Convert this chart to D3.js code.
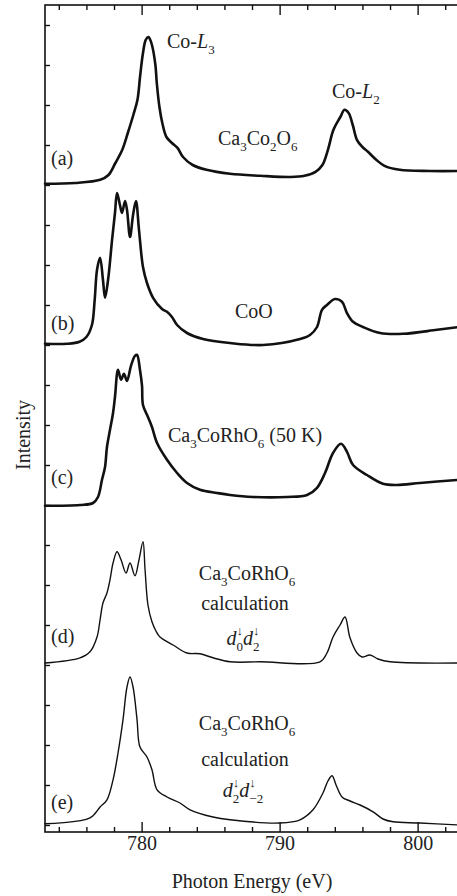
<!DOCTYPE html>
<html>
<head>
<meta charset="utf-8">
<script src="https://cdn.jsdelivr.net/npm/d3@7"></script>
<style>
  body { margin: 0; background: #fff; }
  svg { display: block; }
</style>
</head>
<body>
<div id="chart"></div>
<script>
// photon energy (eV) and offset intensity for each spectrum
const energyA = [773.0, 775.2, 777.0, 777.6, 778.1, 778.6, 779.0, 779.4, 779.7, 779.9, 780.1, 780.3, 780.5, 780.6, 780.75, 781.0, 781.1, 781.3, 781.5, 781.8, 782.2, 782.6, 783.0, 783.7, 784.7, 786.4, 788.6, 790.8, 791.8, 792.6, 793.1, 793.5, 793.9, 794.4, 794.7, 795.0, 795.3, 795.6, 796.0, 796.4, 797.0, 797.6, 798.7, 800.9, 803.0];
const intensityA = [16.03, 16.05, 16.13, 16.25, 16.55, 16.88, 17.3, 17.75, 18.13, 18.75, 19.3, 19.63, 19.7, 19.65, 19.5, 19.0, 18.55, 17.93, 17.55, 17.2, 17.05, 16.93, 16.7, 16.5, 16.38, 16.28, 16.23, 16.2, 16.23, 16.33, 16.5, 16.88, 17.38, 17.7, 17.88, 17.8, 17.5, 17.13, 16.95, 16.83, 16.63, 16.48, 16.38, 16.35, 16.35];

const energyB = [773.0, 774.6, 775.5, 776.0, 776.4, 776.6, 776.77, 776.99, 777.2, 777.35, 777.57, 777.86, 778.07, 778.22, 778.43, 778.58, 778.8, 778.94, 779.16, 779.38, 779.59, 779.81, 780.1, 780.39, 780.83, 781.48, 781.84, 782.2, 782.57, 783.29, 784.45, 786.41, 788.8, 791.48, 792.2, 792.71, 793.07, 793.43, 794.01, 794.52, 794.88, 795.32, 796.04, 797.28, 798.94, 801.41, 803.0];
const intensityB = [12.03, 12.03, 12.08, 12.2, 12.5, 13.13, 13.88, 14.18, 13.63, 13.18, 13.63, 14.63, 15.3, 15.8, 15.5, 15.3, 15.6, 15.38, 14.7, 15.25, 15.6, 14.88, 13.95, 13.55, 13.18, 12.9, 12.83, 12.7, 12.5, 12.3, 12.15, 12.05, 12.0, 12.15, 12.25, 12.45, 12.88, 13.0, 13.15, 13.08, 12.8, 12.58, 12.45, 12.3, 12.28, 12.38, 12.45];

const energyC = [773.0, 775.54, 776.48, 776.84, 777.13, 777.35, 777.49, 777.71, 777.93, 778.07, 778.29, 778.51, 778.72, 778.94, 779.23, 779.52, 779.67, 779.88, 780.03, 780.1, 780.46, 780.75, 781.12, 781.84, 782.57, 783.29, 784.23, 785.46, 786.41, 788.07, 790.54, 791.99, 792.71, 793.29, 793.87, 794.45, 794.88, 795.32, 796.33, 797.49, 798.51, 800.17, 803.0];
const intensityC = [7.98, 8.0, 8.05, 8.2, 8.63, 8.95, 9.45, 9.88, 10.3, 10.7, 11.38, 11.13, 11.28, 11.1, 11.48, 11.73, 11.75, 11.38, 10.98, 10.5, 10.2, 9.95, 9.55, 9.13, 8.8, 8.55, 8.38, 8.3, 8.25, 8.2, 8.2, 8.25, 8.43, 8.8, 9.3, 9.53, 9.33, 9.0, 8.75, 8.53, 8.5, 8.55, 8.63];

const energyD = [773.0, 775.54, 776.26, 776.77, 776.99, 777.2, 777.49, 777.71, 777.93, 778.22, 778.51, 778.87, 779.16, 779.52, 779.81, 780.1, 780.25, 780.46, 780.75, 781.04, 781.33, 782.28, 783.29, 784.23, 785.17, 786.41, 788.58, 792.93, 793.43, 793.87, 794.38, 794.74, 795.1, 795.61, 795.97, 796.55, 797.13, 798.0, 803.0];
const intensityD = [4.05, 4.18, 4.33, 4.7, 5.13, 5.55, 5.8, 6.13, 6.55, 6.83, 6.63, 6.3, 6.55, 6.23, 6.63, 7.08, 6.38, 5.5, 5.08, 4.85, 4.7, 4.5, 4.3, 4.28, 4.18, 4.08, 4.08, 4.08, 4.3, 4.7, 5.0, 5.2, 4.68, 4.3, 4.2, 4.25, 4.15, 4.08, 4.05];

const energyE = [773.0, 776.26, 776.99, 777.49, 777.93, 778.29, 778.65, 778.94, 779.16, 779.38, 779.67, 779.88, 780.39, 780.75, 781.12, 781.84, 782.78, 783.51, 785.17, 786.41, 790.03, 791.48, 792.42, 793.14, 793.5, 793.8, 794.09, 794.52, 795.1, 795.83, 796.77, 797.49, 798.22, 800.17, 803.0];
const intensityE = [0.03, 0.18, 0.45, 0.63, 1.13, 1.8, 2.63, 3.45, 3.7, 3.45, 2.63, 1.95, 1.7, 1.38, 0.88, 0.7, 0.55, 0.38, 0.2, 0.13, 0.05, 0.13, 0.38, 0.8, 1.1, 1.23, 1.0, 0.7, 0.6, 0.5, 0.33, 0.15, 0.08, 0.05, 0.0];

const majorTicks = [780, 790, 800];
const minorTicks = [774, 776, 778, 782, 784, 786, 788, 792, 794, 796, 798, 802];
const yTicks = d3.range(0, 21);

const W = 457, H = 896;
const FONT = "'Liberation Serif', 'Times New Roman', serif";

const svg = d3.select("#chart").append("svg")
    .attr("width", W)
    .attr("height", H)
    .style("font-family", FONT);

const x = d3.scaleLinear().domain([773, 803.07]).range([45, 460]);
const y = d3.scaleLinear().domain([-0.175, 20.5]).range([832, 5]);

const zip = (a, b) => a.map((v, i) => [v, b[i]]);
const line = d3.line()
    .x(d => x(d[0]))
    .y(d => y(d[1]))
    .curve(d3.curveCatmullRom.alpha(0.5));

const spectra = [
  { data: zip(energyA, intensityA), w: 2.6 },
  { data: zip(energyB, intensityB), w: 2.6 },
  { data: zip(energyC, intensityC), w: 2.6 },
  { data: zip(energyD, intensityD), w: 1.4 },
  { data: zip(energyE, intensityE), w: 1.4 }
];

svg.selectAll(".spec")
    .data(spectra)
    .enter().append("path")
    .attr("class", "spec")
    .attr("d", d => line(d.data))
    .attr("fill", "none")
    .attr("stroke", "#111")
    .attr("stroke-width", d => d.w)
    .attr("stroke-linejoin", "round")
    .attr("stroke-linecap", "round");

// axes, ticks point inward
function styleAxis(g) {
  g.select(".domain").remove();
  g.attr("font-family", FONT).attr("font-size", 20);
  g.selectAll("line").attr("stroke", "#111").attr("stroke-width", 1.4);
  g.selectAll("text").attr("fill", "#222");
}

svg.append("g")
    .attr("transform", "translate(0,832)")
    .call(d3.axisBottom(x).tickValues(majorTicks).tickSizeInner(-10).tickSizeOuter(0).tickPadding(4).tickFormat(d3.format("d")))
    .call(styleAxis);
svg.append("g")
    .attr("transform", "translate(0,832)")
    .call(d3.axisBottom(x).tickValues(minorTicks).tickSizeInner(-5).tickSizeOuter(0).tickFormat(""))
    .call(styleAxis);
svg.append("g")
    .attr("transform", "translate(0,5)")
    .call(d3.axisTop(x).tickValues(majorTicks).tickSizeInner(-10).tickSizeOuter(0).tickFormat(""))
    .call(styleAxis);
svg.append("g")
    .attr("transform", "translate(0,5)")
    .call(d3.axisTop(x).tickValues(minorTicks).tickSizeInner(-5).tickSizeOuter(0).tickFormat(""))
    .call(styleAxis);
svg.append("g")
    .attr("transform", "translate(45,0)")
    .call(d3.axisLeft(y).tickValues(yTicks).tickSizeInner(-5).tickSizeOuter(0).tickFormat(""))
    .call(styleAxis);

svg.append("rect")
    .attr("x", 45).attr("y", 5)
    .attr("width", 420).attr("height", 827)
    .attr("fill", "none")
    .attr("stroke", "#111")
    .attr("stroke-width", 1.6);

// axis titles
svg.append("text")
    .attr("x", 252).attr("y", 888)
    .attr("text-anchor", "middle")
    .attr("font-size", 20)
    .attr("fill", "#222")
    .text("Photon Energy (eV)");
svg.append("text")
    .attr("transform", "translate(30,435) rotate(-90)")
    .attr("text-anchor", "middle")
    .attr("font-size", 20)
    .attr("fill", "#222")
    .text("Intensity");

// text with subscripts / superscripts, measured piece by piece
function richText(x0, y0, parts, anchor) {
  const g = svg.append("g").attr("fill", "#222");
  let cx = 0;
  const put = (txt, dy, size, italic) => {
    const t = g.append("text")
        .attr("x", cx).attr("y", dy)
        .attr("font-size", size)
        .attr("font-style", italic ? "italic" : null)
        .attr("xml:space", "preserve")
        .text(txt);
    return t.node().getComputedTextLength();
  };
  parts.forEach(p => {
    if (typeof p === "string") cx += put(p, 0, 20, false);
    else if (p.it) cx += put(p.it, 0, 20, true);
    else if (p.sup !== undefined) {
      const w1 = put(p.sup, -10, 13, false);
      const w2 = put(p.sub, 6, 13, false);
      cx += Math.max(w1, w2);
    } else if (p.sub !== undefined) cx += put(p.sub, 6, 13, false);
  });
  const off = anchor === "middle" ? cx / 2 : 0;
  g.attr("transform", `translate(${x0 - off},${y0})`);
}

const panelLabels = ["(a)", "(b)", "(c)", "(d)", "(e)"];
const panelY = [165, 330, 484, 643, 809];
panelLabels.forEach((t, i) => richText(51, panelY[i], [t]));

richText(167, 48, ["Co-", { it: "L" }, { sub: "3" }]);
richText(332, 98, ["Co-", { it: "L" }, { sub: "2" }]);
richText(218, 145, ["Ca", { sub: "3" }, "Co", { sub: "2" }, "O", { sub: "6" }]);
richText(235, 318, ["CoO"]);
richText(168, 442, ["Ca", { sub: "3" }, "CoRhO", { sub: "6" }, "\u00a0(50 K)"]);

richText(247, 580, ["Ca", { sub: "3" }, "CoRhO", { sub: "6" }], "middle");
richText(245, 610, ["calculation"], "middle");
richText(243, 645, [{ it: "d" }, { sup: "↓", sub: "0" }, { it: "d" }, { sup: "↓", sub: "2" }], "middle");

richText(247, 730, ["Ca", { sub: "3" }, "CoRhO", { sub: "6" }], "middle");
richText(245, 766, ["calculation"], "middle");
richText(243, 797, [{ it: "d" }, { sup: "↓", sub: "2" }, { it: "d" }, { sup: "↓", sub: "−2" }], "middle");
</script>
</body>
</html>
